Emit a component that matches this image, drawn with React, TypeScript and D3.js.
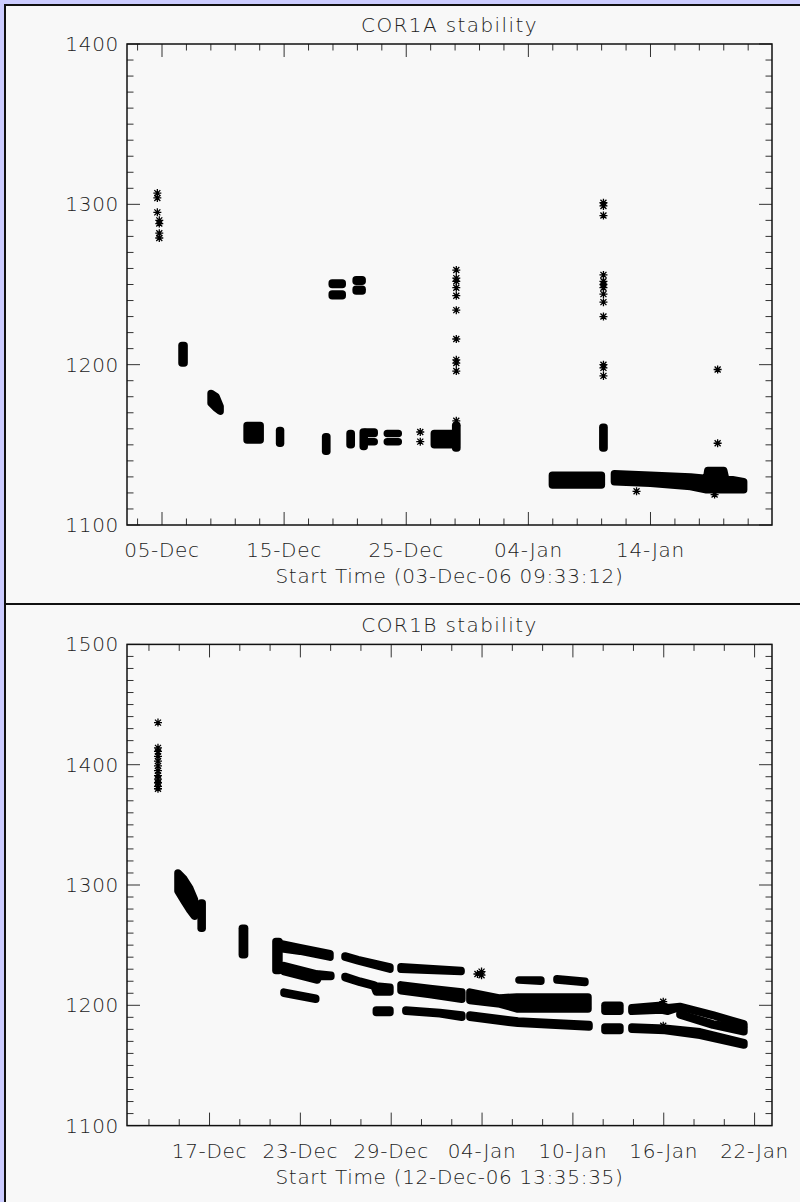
import React from 'react'
import * as d3 from 'd3'

const DAY = 864e5

// COR1A: time in days since 03-Dec-06 09:33:12
const startA = Date.UTC(2006, 11, 3, 9, 33, 12)
const cor1aTickDates = ['2006-12-05', '2006-12-15', '2006-12-25', '2007-01-04', '2007-01-14']
const cor1aYTicks = [1100, 1200, 1300, 1400]

// single points [t, value]
const cor1aPoints = [
  [1.22, 1307], [1.22, 1304], [1.22, 1295], [1.38, 1290], [1.38, 1288], [1.38, 1282], [1.38, 1279],
  [22.75, 1158], [22.75, 1152],
  [25.7, 1259], [25.7, 1254], [25.7, 1252], [25.7, 1248], [25.7, 1243], [25.7, 1234],
  [25.7, 1216], [25.7, 1203], [25.7, 1201], [25.7, 1196], [25.7, 1165], [25.7, 1162],
  [37.75, 1301], [37.75, 1299], [37.75, 1293], [37.75, 1256], [37.75, 1252], [37.75, 1250],
  [37.75, 1248], [37.75, 1244], [37.75, 1239], [37.75, 1230], [37.75, 1200], [37.75, 1198], [37.75, 1193],
  [40.46, 1121], [46.85, 1119], [47.1, 1197], [47.1, 1151],
]

// dense clusters of points: rows of [t, low, high]
const cor1aBands = [
  [[3.24, 1201, 1212], [3.41, 1201, 1212]],
  [[5.62, 1176, 1182], [6.03, 1173, 1180], [6.36, 1171, 1174]],
  [[8.57, 1153, 1162], [9.64, 1153, 1162]],
  [[11.23, 1151, 1159], [11.31, 1151, 1159]],
  [[15.0, 1146, 1155], [15.1, 1146, 1155]],
  [[17.0, 1150, 1157], [17.1, 1150, 1157]],
  [[18.08, 1149, 1158], [18.16, 1149, 1158]],
  [[18.32, 1157, 1158], [18.98, 1157, 1158]],
  [[18.32, 1152, 1152], [18.98, 1152, 1152]],
  [[20.05, 1157, 1157], [20.95, 1157, 1157]],
  [[20.05, 1152, 1152], [20.95, 1152, 1152]],
  [[23.9, 1150, 1157], [25.7, 1150, 1157]],
  [[25.65, 1148, 1162], [25.75, 1148, 1162]],
  [[15.54, 1250, 1251], [16.36, 1250, 1251]],
  [[15.54, 1243, 1244], [16.36, 1243, 1244]],
  [[17.5, 1252, 1253], [17.99, 1252, 1253]],
  [[17.5, 1246, 1247], [17.99, 1246, 1247]],
  [[33.57, 1125, 1131], [37.58, 1125, 1131]],
  [[37.7, 1148, 1161], [37.8, 1148, 1161]],
  [[38.65, 1127, 1132], [41.6, 1126, 1131], [44.88, 1124, 1130], [46.19, 1122, 1129],
   [46.3, 1122, 1134], [47.6, 1122, 1134], [47.75, 1122, 1129], [49.23, 1122, 1127]],
]

// COR1B: time in days since 12-Dec-06 13:35:35
const startB = Date.UTC(2006, 11, 12, 13, 35, 35)
const cor1bTickDates = ['2006-12-17', '2006-12-23', '2006-12-29', '2007-01-04', '2007-01-10', '2007-01-16', '2007-01-22']
const cor1bYTicks = [1100, 1200, 1300, 1400, 1500]

const cor1bPoints = [
  [1.03, 1435], [1.03, 1414], [1.03, 1411], [1.03, 1407], [1.03, 1403], [1.03, 1399],
  [1.03, 1395], [1.03, 1391], [1.03, 1388], [1.03, 1385], [1.03, 1382], [1.03, 1380],
  [22.13, 1226], [22.4, 1225], [22.4, 1228],
  [34.4, 1203], [34.4, 1183],
]

const cor1bBands = [
  [[2.35, 1295, 1310], [2.74, 1287, 1305], [3.14, 1279, 1297], [3.44, 1274, 1288]],
  [[3.88, 1264, 1285], [3.95, 1264, 1285]],
  [[6.6, 1242, 1264], [6.75, 1242, 1264]],
  [[8.82, 1229, 1253], [9.02, 1229, 1253]],
  [[9.22, 1247, 1251], [10.41, 1245, 1248], [12.39, 1240, 1243]],
  [[9.35, 1228, 1233], [11.55, 1221, 1226], [11.65, 1224, 1226], [12.45, 1224, 1225]],
  [[9.35, 1210, 1211], [11.45, 1205, 1206]],
  [[13.38, 1240, 1241], [14.24, 1237, 1238], [16.35, 1230, 1232]],
  [[13.38, 1223, 1224], [14.37, 1219, 1220], [15.3, 1216, 1217], [15.45, 1211, 1216], [16.35, 1211, 1215]],
  [[15.45, 1194, 1196], [16.35, 1194, 1196]],
  [[17.08, 1230, 1232], [21.05, 1228, 1229]],
  [[17.08, 1212, 1217], [18.99, 1209, 1214], [21.1, 1205, 1211]],
  [[17.4, 1195, 1196], [19.65, 1193, 1194], [21.1, 1190, 1192]],
  [[21.63, 1204, 1211], [23.62, 1201, 1206], [24.74, 1197, 1207], [29.43, 1197, 1207]],
  [[24.87, 1221, 1221], [26.32, 1220, 1221]],
  [[27.38, 1221, 1222], [29.23, 1219, 1220]],
  [[21.63, 1190, 1192], [24.8, 1185, 1187], [29.5, 1182, 1184]],
  [[30.55, 1195, 1200], [31.54, 1195, 1200]],
  [[30.55, 1179, 1182], [31.54, 1179, 1182]],
  [[32.33, 1195, 1198], [34.3, 1196, 1200], [34.7, 1195, 1198], [35.5, 1198.5, 1199], [37.68, 1191.5, 1192], [39.73, 1183, 1184.5]],
  [[35.5, 1192, 1193], [37.68, 1183.5, 1184.5], [39.73, 1178, 1181]],
  [[32.33, 1180, 1182], [34.51, 1179, 1181], [36.83, 1175, 1178], [39.73, 1167, 1169]],
]

const font = { fontFamily: '"DejaVu Sans", sans-serif', fontSize: 20, letterSpacing: 0.7, fontWeight: 300 }
// IDL psym=2 style asterisk
const asterisk = 'M-4,0H4M0,-4V4M-3,-3L3,3M-3,3L3,-3'
const fmt = d3.utcFormat('%d-%b')

function Panel({ top, title, xTitle, start, x, y, tickDates, yTicks, points, bands }) {
  const [x0, x1] = x.range()
  const [y1, y0] = y.range()
  const toDate = (t: number) => new Date(start + t * DAY)
  const majors = tickDates.map((s: string) => new Date(s + 'T00:00:00Z'))
  const first = new Date(+majors[0] - Math.floor((majors[0] - +x.domain()[0]) / DAY / 2) * 2 * DAY)
  const minors = d3.utcDay.range(first, x.domain()[1], 2).filter(d => +d > +x.domain()[0])
  const isMajor = (d: Date) => majors.some((m: Date) => Math.abs(+m - +d) < 1000)
  const yMin = y.domain()[0], yMax = y.domain()[1]
  const yMinor = d3.range(yMin, yMax + 1, 10)
  const area = d3.area<number[]>()
    .x(d => x(toDate(d[0])))
    .y0(d => y(d[1]))
    .y1(d => y(d[2]))
  const cx = (x0 + x1) / 2
  return (
    <g>
      <rect x={5} y={top} width={800} height={600} fill="#f8f8f8" stroke="#111" strokeWidth={2} />
      <text x={cx} y={y0 - 19} textAnchor="middle" dominantBaseline="central" fill="#222" style={{ ...font, letterSpacing: 1.4 }}>{title}</text>
      {bands.map((b, i) => (
        <path key={'b' + i} d={area(b)} fill="#000" stroke="#000" strokeWidth={7.5} strokeLinejoin="round" />
      ))}
      {points.map((p, i) => (
        <path key={'p' + i} d={asterisk} transform={`translate(${x(toDate(p[0]))},${y(p[1])})`} stroke="#000" strokeWidth={1.3} fill="none" />
      ))}
      {minors.map((d, i) => {
        const len = isMajor(d) ? 13 : 6.5
        const px = x(d)
        return (
          <g key={'xt' + i} stroke="#333" strokeWidth={1}>
            <line x1={px} x2={px} y1={y1} y2={y1 - len} />
            <line x1={px} x2={px} y1={y0} y2={y0 + len} />
          </g>
        )
      })}
      {yMinor.map((v, i) => {
        const len = v % 100 === 0 ? 13 : 6.5
        const py = y(v)
        return (
          <g key={'yt' + i} stroke="#333" strokeWidth={1}>
            <line x1={x0} x2={x0 + len} y1={py} y2={py} />
            <line x1={x1} x2={x1 - len} y1={py} y2={py} />
          </g>
        )
      })}
      <rect x={x0} y={y0} width={x1 - x0} height={y1 - y0} fill="none" stroke="#111" strokeWidth={1.5} />
      {yTicks.map((v: number) => (
        <text key={'yl' + v} x={x0 - 8} y={y(v)} textAnchor="end" dominantBaseline="central" fill="#222" style={font}>{v}</text>
      ))}
      {majors.map((d: Date, i: number) => (
        <text key={'xl' + i} x={x(d)} y={y1 + 25} textAnchor="middle" dominantBaseline="central" fill="#222" style={font}>{fmt(d)}</text>
      ))}
      <text x={cx} y={y1 + 51} textAnchor="middle" dominantBaseline="central" fill="#222" style={font}>{xTitle}</text>
    </g>
  )
}

export default function App() {
  const d05 = Date.UTC(2006, 11, 5)
  const xA = d3.scaleUtc()
    .domain([new Date(d05 - 2.866 * DAY), new Date(d05 + 49.95 * DAY)])
    .range([127, 772])
  const yA = d3.scaleLinear().domain([1100, 1400]).range([525, 44])

  const d17 = Date.UTC(2006, 11, 17)
  const xB = d3.scaleUtc()
    .domain([new Date(d17 - 5.45 * DAY), new Date(d17 + 37.15 * DAY)])
    .range([127, 772])
  const yB = d3.scaleLinear().domain([1100, 1500]).range([1125.6, 644.4])

  return (
    <svg width={800} height={1202} style={{ position: 'absolute', left: 0, top: 0, display: 'block' }}>
      <rect width={800} height={1202} fill="#ccccff" />
      <Panel top={5} title="COR1A stability" xTitle="Start Time (03-Dec-06 09:33:12)" start={startA}
        x={xA} y={yA} tickDates={cor1aTickDates} yTicks={cor1aYTicks} points={cor1aPoints} bands={cor1aBands} />
      <Panel top={604} title="COR1B stability" xTitle="Start Time (12-Dec-06 13:35:35)" start={startB}
        x={xB} y={yB} tickDates={cor1bTickDates} yTicks={cor1bYTicks} points={cor1bPoints} bands={cor1bBands} />
    </svg>
  )
}
